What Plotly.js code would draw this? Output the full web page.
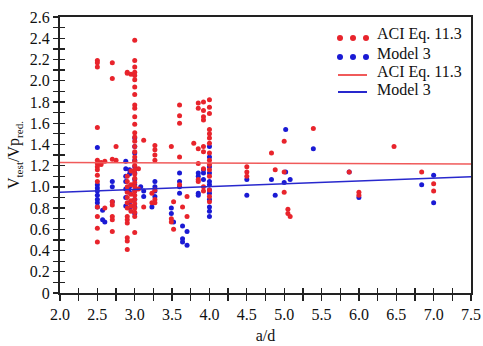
<!DOCTYPE html>
<html>
<head>
<meta charset="utf-8">
<script src="https://cdn.plot.ly/plotly-3.0.1.min.js"></script>
<style>html,body{margin:0;padding:0;background:#fff;}#chart{width:483px;height:346px;}</style>
</head>
<body>
<div id="chart"></div>
<script>
// ---- data ----
var aciX = [2.5,2.5,2.5,2.5,2.5,2.5,2.5,2.5,2.5,2.5,2.5,2.5,2.5,2.5,
  2.55,2.55,2.6,2.6,
  2.7,2.7,2.7,2.7,2.7,2.7,2.7,2.7,2.75,2.75,
  2.9,2.9,2.9,2.9,2.9,2.9,2.9,2.9,2.9,2.9,2.9,2.9,2.9,2.9,2.9,
  2.95,2.95,2.95,2.95,2.95,2.95,2.95,
  3.0,3.0,3.0,3.0,3.0,3.0,3.0,3.0,3.0,3.0,3.0,3.0,3.0,3.0,3.0,3.0,3.0,3.0,3.0,3.0,3.0,3.0,3.0,3.0,3.0,3.0,3.0,3.0,3.0,3.0,3.0,3.0,3.0,
  3.05,3.05,3.12,3.12,
  3.27,3.27,3.27,3.27,3.27,3.27,3.27,3.23,3.23,
  3.49,3.49,3.49,3.52,3.52,
  3.6,3.6,3.6,3.6,3.6,3.64,3.7,3.7,
  3.79,3.85,3.85,3.85,3.85,3.85,3.85,
  3.92,3.92,3.92,3.92,3.92,3.92,3.92,3.92,3.92,
  4.0,4.0,4.0,4.0,4.0,4.0,4.0,4.0,4.0,4.0,4.0,4.0,4.0,4.0,4.0,
  4.5,4.5,4.5,4.83,4.88,5.0,5.0,5.0,5.05,5.05,5.08,5.39,5.87,6.0,6.0,6.47,6.84,7.0,7.0];
var aciY = [2.19,2.17,2.13,1.56,1.25,1.22,1.19,1.16,1.11,1.05,0.81,0.72,0.61,0.48,
  1.23,1.21,1.24,0.80,
  2.17,2.02,1.26,0.86,0.83,0.72,0.69,0.58,1.38,1.25,
  2.08,2.07,1.10,1.05,1.00,0.95,0.90,0.85,0.80,0.72,0.69,0.66,0.52,0.49,0.41,
  2.06,1.15,1.02,0.93,0.87,0.82,0.77,
  2.38,2.19,2.13,2.08,2.05,2.01,1.94,1.87,1.77,1.74,1.66,1.59,1.51,1.47,1.43,1.38,1.33,1.28,1.24,1.20,1.16,1.12,1.08,1.04,1.00,0.96,0.92,0.88,0.84,0.80,0.76,0.72,0.57,
  1.17,0.98,1.44,0.81,
  1.39,1.35,1.30,1.25,0.97,0.88,0.85,0.94,0.85,
  1.38,0.70,0.67,0.86,0.60,
  1.77,1.67,1.60,1.28,1.02,0.81,0.91,0.72,
  1.41,1.79,1.74,1.36,1.22,1.07,1.05,
  1.80,1.72,1.66,1.63,1.38,1.33,1.17,1.00,0.96,
  1.82,1.75,1.69,1.54,1.50,1.46,1.41,1.32,1.25,1.21,1.16,1.10,0.97,0.91,0.86,
  1.19,1.14,1.10,1.32,1.16,1.43,1.14,0.95,0.79,0.75,0.72,1.55,1.14,0.95,0.92,1.38,1.14,1.03,0.96];

var m3X = [2.5,2.5,2.5,2.5,2.5,2.5,2.5,2.5,2.57,2.57,2.6,
  2.7,2.7,2.7,
  2.88,2.88,2.88,2.88,2.88,2.88,2.88,
  2.93,2.93,2.93,2.93,2.93,2.93,
  3.0,3.0,3.0,3.0,3.0,3.0,3.0,3.0,3.0,3.0,3.0,3.0,
  3.08,3.12,3.12,3.27,3.27,3.27,3.27,3.23,
  3.49,3.49,3.52,3.6,3.6,3.6,3.6,3.64,3.64,3.64,3.7,3.7,
  3.85,3.85,3.85,3.85,3.92,3.92,3.92,
  4.0,4.0,4.0,4.0,4.0,4.0,4.0,4.0,4.0,4.0,4.0,4.0,
  4.5,4.5,4.83,4.88,5.0,5.02,5.02,5.08,5.39,5.87,6.0,6.84,7.0,7.0];
var m3Y = [1.37,1.02,0.99,0.96,0.92,0.88,0.85,0.81,0.78,0.69,0.67,
  1.05,1.00,0.86,
  1.24,1.17,1.10,1.05,0.98,0.90,0.82,
  1.16,1.12,1.00,0.95,0.85,0.80,
  1.46,1.38,1.32,1.25,1.19,1.13,1.07,1.02,0.96,0.88,0.81,0.75,
  1.00,0.96,0.91,1.05,1.00,0.96,0.91,0.81,
  0.80,0.75,0.67,1.13,1.05,1.00,0.94,0.63,0.51,0.48,0.58,0.45,
  1.13,1.10,0.94,0.92,1.16,1.13,1.07,
  1.38,1.28,1.19,1.13,1.05,1.02,0.97,0.94,0.88,0.81,0.77,0.72,
  1.07,0.92,1.07,0.92,1.04,1.54,1.14,1.07,1.36,1.14,0.90,1.02,1.11,0.85];

var fitX = [2.0, 7.5];
var aciFitY = [1.23, 1.215];
var m3FitY = [0.95, 1.095];

var seriesNames = ['ACI Eq. 11.3', 'Model 3'];
var yTickVals = [0,0.2,0.4,0.6,0.8,1.0,1.2,1.4,1.6,1.8,2.0,2.2,2.4,2.6];
var yTickText = ['0','0.2','0.4','0.6','0.8','1.0','1.2','1.4','1.6','1.8','2.0','2.2','2.4','2.6'];
var xTickVals = [2.0,2.5,3.0,3.5,4.0,4.5,5.0,5.5,6.0,6.5,7.0,7.5];
var xTickText = ['2.0','2.5','3.0','3.5','4.0','4.5','5.0','5.5','6.0','6.5','7.0','7.5'];

// ---- styling ----
var RED = 'rgb(232,36,44)';
var BLUE = 'rgb(26,26,212)';
var RED_LINE = 'rgb(240,90,90)';
var BLUE_LINE = 'rgb(40,40,205)';
var FONT = 'Liberation Serif, Times New Roman, serif';

var W = 483, H = 346, L = 60, R = 12, T = 17, B = 53;
var PW = W - L - R, PH = H - T - B;
function px(x) { return (x - L) / PW; }
function py(y) { return (H - B - y) / PH; }

var traces = [
  {x: m3X, y: m3Y, type: 'scatter', mode: 'markers', name: seriesNames[1],
   marker: {color: BLUE, size: 5}, showlegend: false},
  {x: aciX, y: aciY, type: 'scatter', mode: 'markers', name: seriesNames[0],
   marker: {color: RED, size: 5}, showlegend: false},
  {x: fitX, y: aciFitY, type: 'scatter', mode: 'lines', name: seriesNames[0],
   line: {color: RED_LINE, width: 1.5}, showlegend: false},
  {x: fitX, y: m3FitY, type: 'scatter', mode: 'lines', name: seriesNames[1],
   line: {color: BLUE_LINE, width: 1.5}, showlegend: false},
  {x: [null], y: [null], xaxis: 'x2', yaxis: 'y2', type: 'scatter', mode: 'markers',
   showlegend: false, hoverinfo: 'skip'}
];

// custom legend (three-dot symbols like the original)
var shapes = [];
var annotations = [];
var legRows = [
  {kind: 'dots', color: RED, text: seriesNames[0], ty: 34, sy: 38},
  {kind: 'dots', color: BLUE, text: seriesNames[1], ty: 53, sy: 57},
  {kind: 'line', color: RED_LINE, text: seriesNames[0], ty: 72, sy: 75},
  {kind: 'line', color: BLUE_LINE, text: seriesNames[1], ty: 89, sy: 92}
];
legRows.forEach(function (r) {
  if (r.kind === 'dots') {
    [340, 353, 366].forEach(function (cx) {
      shapes.push({type: 'circle', xref: 'paper', yref: 'paper', xsizemode: 'pixel', ysizemode: 'pixel',
        xanchor: px(cx), yanchor: py(r.sy), x0: -3, x1: 3, y0: -3, y1: 3,
        fillcolor: r.color, line: {width: 0}});
    });
  } else {
    shapes.push({type: 'line', xref: 'paper', yref: 'paper', x0: px(338), x1: px(367),
      y0: py(r.sy), y1: py(r.sy), line: {color: r.color, width: 2}});
  }
  annotations.push({xref: 'paper', yref: 'paper', x: px(375), y: py(r.ty), xanchor: 'left', yanchor: 'middle',
    text: r.text, showarrow: false, font: {family: FONT, size: 16, color: '#111'}});
});

var axisCommon = {
  showgrid: false, zeroline: false, linecolor: '#222', linewidth: 2,
  tickcolor: '#222', tickwidth: 1.3,
  tickfont: {family: FONT, size: 16, color: '#111'}
};

var layout = {
  width: W, height: H,
  margin: {l: L, r: R, t: T, b: B, pad: 0},
  paper_bgcolor: '#fff', plot_bgcolor: '#fff',
  showlegend: false,
  xaxis: Object.assign({}, axisCommon, {
    range: [2.0, 7.5], tickvals: xTickVals, ticktext: xTickText,
    ticks: 'outside', ticklen: 6, mirror: true, showline: true,
    minor: {tickvals: [2.25,2.75,3.25,3.75,4.25,4.75,5.25,5.75,6.25,6.75,7.25], ticks: 'outside', ticklen: 6, tickcolor: '#222', tickwidth: 1.3},
    title: {text: 'a/d', font: {family: FONT, size: 16, color: '#111'}, standoff: 8}
  }),
  yaxis: Object.assign({}, axisCommon, {
    range: [0, 2.6], tickvals: yTickVals, ticktext: yTickText,
    ticks: 'outside', ticklen: 5, mirror: true, showline: true,
    minor: {dtick: 0.1, ticks: 'outside', ticklen: 5, tickcolor: '#222', tickwidth: 1.3},
    title: {text: 'V<sub>test</sub>/Vp<sub>red.</sub>', font: {family: FONT, size: 16, color: '#111'}, standoff: 6}
  }),
  xaxis2: {overlaying: 'x', anchor: 'y', side: 'bottom', range: [2.0, 7.5], showgrid: false, zeroline: false,
    showline: false, showticklabels: false, tickmode: 'linear', tick0: 2.0, dtick: 0.25,
    ticks: 'inside', ticklen: 5, tickcolor: '#222', tickwidth: 1.3},
  yaxis2: {overlaying: 'y', anchor: 'x', side: 'left', range: [0, 2.6], showgrid: false, zeroline: false,
    showline: false, showticklabels: false, tickmode: 'linear', tick0: 0, dtick: 0.1,
    ticks: 'inside', ticklen: 5, tickcolor: '#222', tickwidth: 1.3},
  shapes: shapes,
  annotations: annotations
};

Plotly.newPlot('chart', traces, layout, {displayModeBar: false, staticPlot: true});
</script>
</body>
</html>
